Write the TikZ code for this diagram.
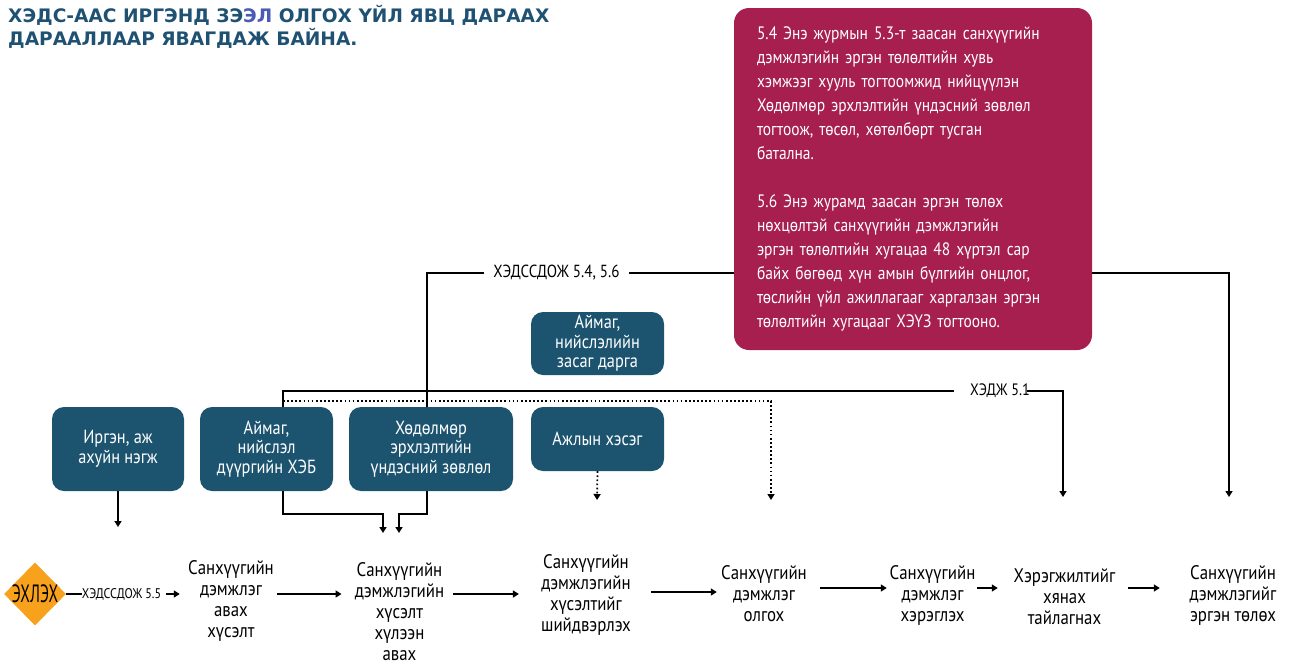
\documentclass[tikz,border=0pt]{standalone}
\usepackage{fontspec}
\setmainfont{PT Sans}
\newfontfamily\cf[FakeStretch=0.86]{PT Sans}
\newfontfamily\ccf[FakeStretch=0.62]{PT Sans}
\newfontfamily\tf{DejaVu Sans}
\usetikzlibrary{arrows.meta,shapes.geometric}
\definecolor{boxblue}{HTML}{1C5470}
\definecolor{redbox}{HTML}{A61F4E}
\definecolor{orng}{HTML}{F8A11C}
\definecolor{ttl}{HTML}{1F5173}
\definecolor{ttlb}{HTML}{4B5BB5}
\begin{document}
\begin{tikzpicture}[x=1pt,y=-1pt,
  bluebox/.style={rounded corners=12pt, fill=boxblue, text=white, align=center, inner sep=0pt, font=\cf\fontsize{19}{19.5}\selectfont},
  steplbl/.style={align=center, inner sep=0pt, font=\cf\fontsize{19.6}{21}\selectfont},
  reflbl/.style={inner sep=0pt, font=\cf\fontsize{17.5}{18}\selectfont},
  ln/.style={line width=1.9pt},
  arr/.style={line width=1.9pt, -{Triangle[length=6pt,width=7pt]}},
  dotarr/.style={line width=1.7pt, dash pattern=on 1.7pt off 2.4pt, -{Triangle[length=6pt,width=7pt]}}
]
\useasboundingbox (0,0) rectangle (1292,664);

% title
\node[anchor=north west, align=left, inner sep=0pt, text=ttl,
      font=\tf\bfseries\fontsize{18.6}{23}\selectfont] (title) at (8,5)
  {ХЭДС-ААС ИРГЭНД ЗЭ\textcolor{ttlb}{ЭЛ} ОЛГОХ ҮЙЛ ЯВЦ ДАРААХ\\ДАРААЛЛААР ЯВАГДАЖ БАЙНА.};

% red note
\node[fill=redbox, rounded corners=15pt, minimum width=358pt, minimum height=342pt,
      inner xsep=23pt, inner ysep=0pt, text width=312pt, align=left, text=white,
      font=\cf\fontsize{18}{24}\selectfont] (red) at (913,179)
  {5.4 Энэ журмын 5.3-т заасан санхүүгийн\\дэмжлэгийн эргэн төлөлтийн хувь\\хэмжээг хууль тогтоомжид нийцүүлэн\\Хөдөлмөр эрхлэлтийн үндэсний зөвлөл\\тогтоож, төсөл, хөтөлбөрт тусган\\батална.\\[24pt]5.6 Энэ журамд заасан эргэн төлөх\\нөхцөлтэй санхүүгийн дэмжлэгийн\\эргэн төлөлтийн хугацаа 48 хүртэл сар\\байх бөгөөд хүн амын бүлгийн онцлог,\\төслийн үйл ажиллагааг харгалзан эргэн\\төлөлтийн хугацааг ХЭҮЗ тогтооно.};

% blue boxes
\node[bluebox, minimum width=132pt, minimum height=84pt] (irg) at (118,449) {Иргэн, аж\\ахуйн нэгж};
\node[bluebox, minimum width=133pt, minimum height=84pt] (aim) at (266.5,449) {Аймаг,\\нийслэл\\дүүргийн ХЭБ};
\node[bluebox, minimum width=164pt, minimum height=84pt] (hod) at (431,449) {Хөдөлмөр\\эрхлэлтийн\\үндэсний зөвлөл};
\node[bluebox, minimum width=133pt, minimum height=64pt] (ajl) at (597.5,439) {Ажлын хэсэг};
\node[bluebox, minimum width=133pt, minimum height=63pt] (zas) at (597.5,343.5) {Аймаг,\\нийслэлийн\\засаг дарга};

% start diamond
\node[diamond, fill=orng, minimum width=62pt, minimum height=63pt, inner sep=0pt,
      label={[font=\ccf\fontsize{25}{25}\selectfont, inner sep=0pt]center:ЭХЛЭХ}] (st) at (35,594) {};

% step labels
\node[steplbl, minimum width=88pt] (s1) at (231,601) {Санхүүгийн\\дэмжлэг\\авах\\хүсэлт};
\node[steplbl, minimum width=89pt] (s2) at (399.5,612) {Санхүүгийн\\дэмжлэгийн\\хүсэлт\\хүлээн\\авах};
\node[steplbl, minimum width=88pt] (s3) at (586,595) {Санхүүгийн\\дэмжлэгийн\\хүсэлтийг\\шийдвэрлэх};
\node[steplbl, minimum width=88pt] (s4) at (764,594) {Санхүүгийн\\дэмжлэг\\олгох};
\node[steplbl, minimum width=89pt] (s5) at (932.5,595) {Санхүүгийн\\дэмжлэг\\хэрэглэх};
\node[steplbl, minimum width=105pt] (s6) at (1064.5,597) {Хэрэгжилтийг\\хянах\\тайлагнах};
\node[steplbl, minimum width=90pt] (s7) at (1233,595) {Санхүүгийн\\дэмжлэгийг\\эргэн төлөх};

% reference labels
\node[reflbl, font=\cf\fontsize{14}{15}\selectfont, minimum width=77pt] (l55) at (121.5,594) {ХЭДССДОЖ 5.5};
\node[reflbl, minimum width=145pt] (l54) at (556.5,273) {ХЭДССДОЖ 5.4, 5.6};
\node[reflbl, font=\cf\fontsize{16.5}{17}\selectfont, minimum width=62pt] (l51) at (1000,391) {ХЭДЖ 5.1};

% free coordinates
\coordinate (r594) at (0,594);
\coordinate (r592) at (0,592);
\coordinate (r588) at (0,588);
\coordinate (e1) at (118,527);
\coordinate (m1) at (383,533);
\coordinate (m2) at (399,533);
\coordinate (e3) at (597,500);
\coordinate (d0) at (283,401);
\coordinate (e4) at (771,500);
\coordinate (e6) at (1063,497);
\coordinate (e7) at (1229,497);

% bottom flow
\draw[ln] (st.east) -- (l55.west);
\draw[arr, shorten <=5pt, shorten >=7pt] (l55.east) -- (s1.west |- r594);
\draw[arr, shorten <=2pt, shorten >=13pt] (s1.east |- r594) -- (s2.west |- r594);
\draw[arr, shorten <=9pt, shorten >=22pt] (s2.east |- r594) -- (s3.west |- r594);
\draw[arr, shorten <=20pt, shorten >=3pt] (s3.east |- r592) -- (s4.west |- r592);
\draw[arr, shorten <=12pt, shorten >=1pt] (s4.east |- r588) -- (s5.west |- r588);
\draw[arr, shorten <=0pt, shorten >=14pt] (s5.east |- r588) -- (s6.west |- r588);
\draw[arr, shorten <=11pt, shorten >=28pt] (s6.east |- r588) -- (s7.west |- r588);

% from boxes
\draw[arr] (irg.south) -- (e1);
\draw[arr] ([xshift=16.5pt]aim.south) -- ++(0,23) -| (m1);
\draw[arr] ([xshift=-4pt]hod.south) -- ++(0,23) -| (m2);
\draw[dotarr] (ajl.south) -- (e3);
\draw[dotarr] (d0) -| (e4);

% top connectors
\draw[ln] ([xshift=-4pt]hod.north) |- (l54.west);
\draw[ln] (l54.east) -- (red.west |- l54);
\draw[arr] (red.east |- l54) -| (e7);
\draw[ln, shorten >=15pt] ([xshift=16.5pt]aim.north) |- (l51.west);
\draw[arr, shorten <=-4pt] (l51.east) -| (e6);
\end{tikzpicture}
\end{document}
